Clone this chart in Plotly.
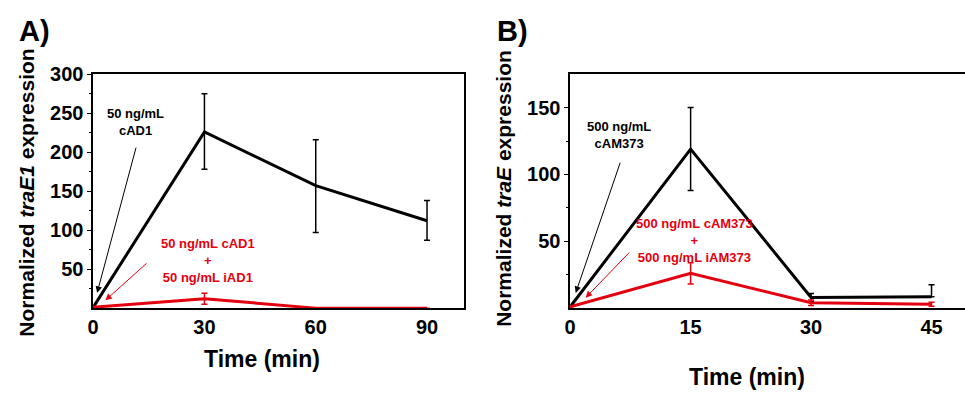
import plotly.graph_objects as go

# Panel A data
time_a = [0, 30, 60, 90]
black_a = [1, 226, 157, 112]
black_a_err_plus = [0, 49, 59, 26]
black_a_err_minus = [0, 48, 60, 25]
red_a = [1, 12, 0, 0]
red_a_err = [0, 7, 0, 0]

# Panel B data
time_b = [0, 15, 30, 45]
black_b = [1, 119, 8, 8.5]
black_b_err_plus = [0, 31, 3, 9]
black_b_err_minus = [0, 31, 3, 0]
red_b = [1, 26, 4, 3]
red_b_err = [0, 8, 2, 1.5]

W, H = 965, 393
FONT = "Liberation Sans, Arial, sans-serif"
BLACK = "#000000"
RED = "#e3000f"

fig = go.Figure()

def add_series(x, y, ep, em, color, xa, ya):
    fig.add_trace(go.Scatter(
        x=x, y=y, mode="lines", xaxis=xa, yaxis=ya,
        line=dict(color=color, width=3),
        error_y=dict(type="data", array=ep, arrayminus=em, symmetric=False,
                     color=color, thickness=1.5, width=3),
        showlegend=False, hoverinfo="skip"))

add_series(time_a, black_a, black_a_err_plus, black_a_err_minus, BLACK, "x", "y")
add_series(time_a, red_a, red_a_err, red_a_err, RED, "x", "y")
add_series(time_b, black_b, black_b_err_plus, black_b_err_minus, BLACK, "x2", "y2")
add_series(time_b, red_b, red_b_err, red_b_err, RED, "x2", "y2")

ydom = [1 - 305.7 / H, 1 - 65 / H]
tickfont = dict(family=FONT, size=20, color=BLACK, weight="bold")

fig.update_layout(
    width=W, height=H, margin=dict(l=0, r=0, t=0, b=0),
    paper_bgcolor="white", plot_bgcolor="white",
    xaxis=dict(domain=[87.7 / W, 461 / W], range=[0, 100], tickvals=time_a,
               showline=True, linecolor=BLACK, linewidth=1.5, mirror=True,
               showgrid=False, zeroline=False, ticks="", tickfont=tickfont),
    yaxis=dict(domain=ydom, range=[0, 300], tickvals=[50, 100, 150, 200, 250, 300],
               showline=True, linecolor=BLACK, linewidth=1.5, mirror=True,
               showgrid=False, zeroline=False, ticks="outside", ticklen=4,
               tickwidth=1, tickcolor=BLACK, tickfont=tickfont,
               minor=dict(tickvals=[25, 75, 125, 175, 225, 275], ticks="outside",
                          ticklen=2, tickcolor=BLACK, showgrid=False)),
    xaxis2=dict(domain=[567.7 / W, 1.0], range=[0, 49.17], tickvals=time_b,
                anchor="y2",
                showline=True, linecolor=BLACK, linewidth=1.5, mirror=True,
                showgrid=False, zeroline=False, ticks="", tickfont=tickfont),
    yaxis2=dict(domain=ydom, range=[0, 175], tickvals=[50, 100, 150], anchor="x2",
                showline=True, linecolor=BLACK, linewidth=1.5, mirror=False,
                showgrid=False, zeroline=False, ticks="outside", ticklen=4,
                tickwidth=1, tickcolor=BLACK, tickfont=tickfont,
                minor=dict(tickvals=[25, 75, 125], ticks="outside",
                           ticklen=2, tickcolor=BLACK, showgrid=False)),
)

def pa(text, x, y, size, color=BLACK, angle=0):
    fig.add_annotation(text=text, xref="paper", yref="paper", x=x / W, y=1 - y / H,
                       xanchor="center", yanchor="middle", showarrow=False,
                       textangle=angle,
                       font=dict(family=FONT, size=size, color=color, weight="bold"))

# panel letters
pa("A)", 29, 21, 29)
pa("B)", 510, 21, 29)
# axis titles
pa("Time (min)", 258, 358, 23)
pa("Time (min)", 746, 377, 23)
pa("Normalized <i>traE1</i> expression", 21, 187, 21, angle=-90)
pa("Normalized <i>traE</i> expression", 501, 182, 21, angle=-90)

def label(text, x, y, xa, ya, color, yshift=0):
    fig.add_annotation(text=text, xref=xa, yref=ya, x=x, y=y, showarrow=False,
                       xanchor="center", yanchor="middle", yshift=yshift,
                       font=dict(family=FONT, size=13, color=color, weight="bold"))

def arrow(x, y, ax, ay, xa, ya, color):
    fig.add_annotation(text="", xref=xa, yref=ya, x=x, y=y, ax=ax, ay=ay,
                       showarrow=True, arrowhead=2, arrowsize=1.3, arrowwidth=1,
                       arrowcolor=color)

label("50 ng/mL<br>cAD1", 11.3, 231.5, "x", "y", BLACK, yshift=6)
label("50 ng/mL cAD1<br>+<br>50 ng/mL iAD1", 30.9, 58.4, "x", "y", RED, yshift=2)
arrow(1.07, 19.6, 39.3, -146.7, "x", "y", BLACK)
arrow(3.3, 10, 42.7, -38.4, "x", "y", RED)

label("500 ng/mL<br>cAM373", 6.06, 124.5, "x2", "y2", BLACK, yshift=7)
label("500 ng/mL cAM373<br>+<br>500 ng/mL iAM373", 15.47, 48.4, "x2", "y2", RED, yshift=3)
arrow(0.69, 11.4, 45, -131.7, "x2", "y2", BLACK)
arrow(1.93, 7.8, 45, -46.7, "x2", "y2", RED)

fig.write_html("out.html")
